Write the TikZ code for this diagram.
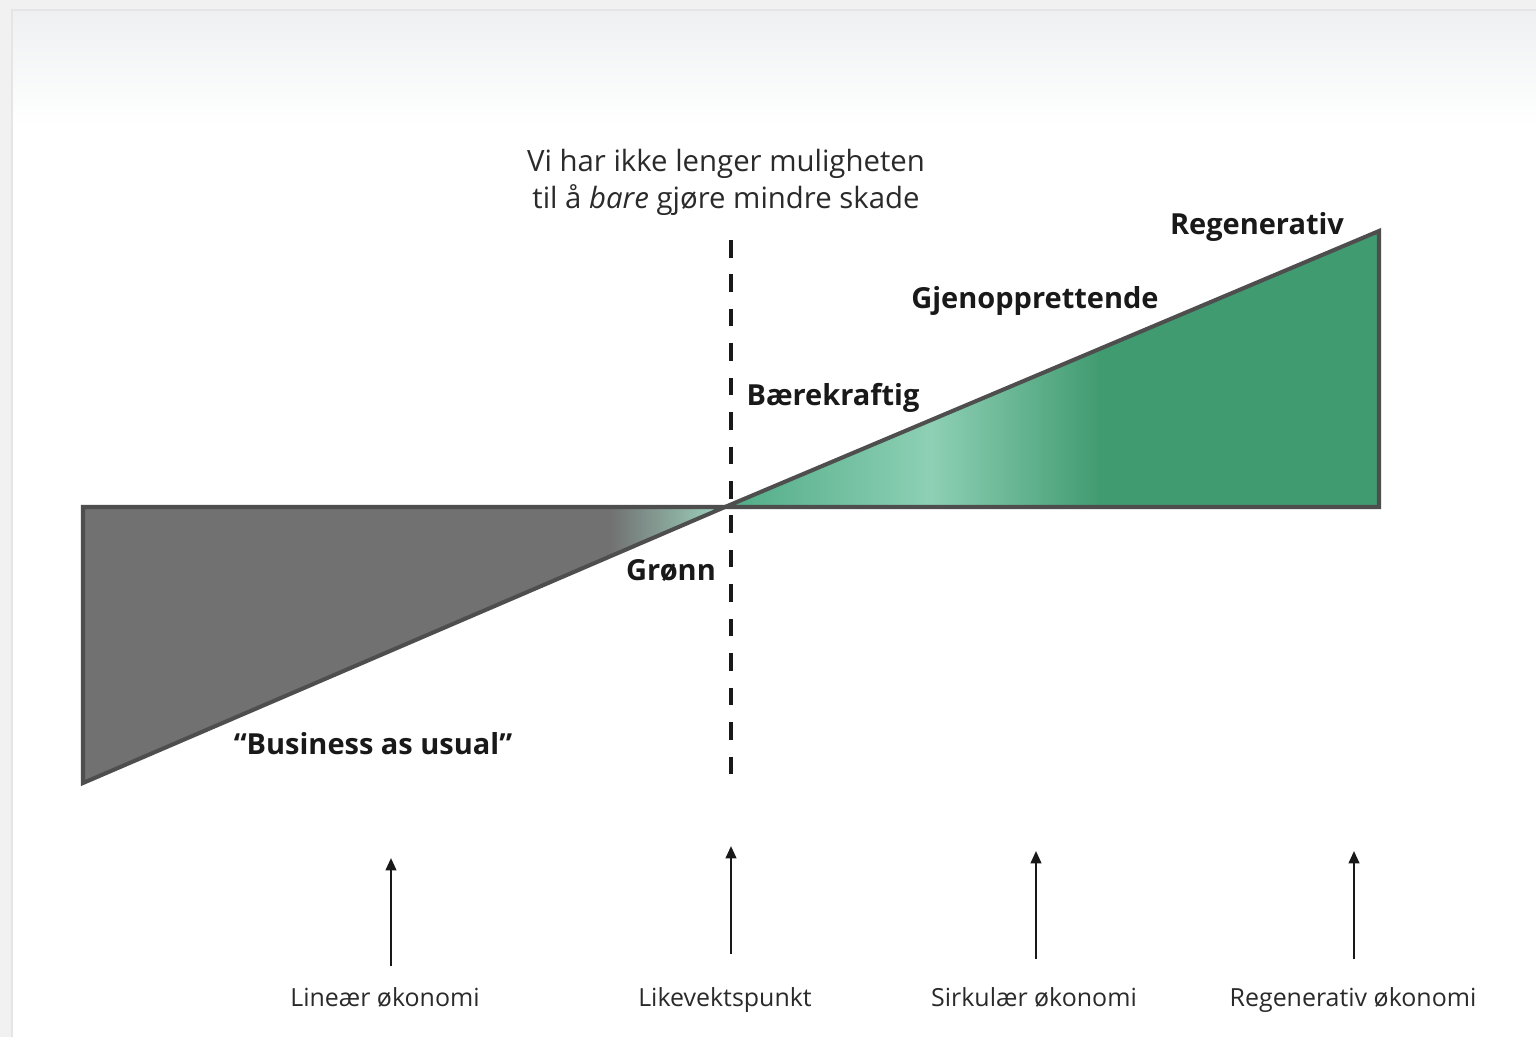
\documentclass[tikz,border=0pt]{standalone}
\usepackage{fontspec}
\setmainfont{Open Sans}
\usetikzlibrary{arrows.meta}
\definecolor{bgout}{HTML}{F1F1F1}
\definecolor{topgray}{HTML}{EEF0F1}
\definecolor{grayfill}{HTML}{717171}
\definecolor{outl}{HTML}{4E4E4E}
\definecolor{palegreen}{HTML}{9FD8C2}
\definecolor{gnear}{HTML}{4FAB86}
\definecolor{glight}{HTML}{8ED0B5}
\definecolor{gdark}{HTML}{419B71}
\definecolor{txt}{HTML}{2A2A2A}
\tikzset{
  outline/.style={draw=outl, line width=2.3pt, line join=miter},
  dashline/.style={draw=black!90, line width=2.6pt, dash pattern=on 10pt off 9.6pt},
  toptext/.style={font=\fontsize{16.7}{21}\selectfont, text=txt, align=center, inner sep=0pt},
  lbl/.style={font=\fontsize{16.5}{20}\selectfont\bfseries, text=black!90, inner sep=0pt, anchor=base},
  botlbl/.style={font=\fontsize{14.2}{16}\selectfont, text=txt, inner sep=0pt, anchor=base},
  uparrow/.style={draw=black!90, line width=1.3pt, -{Triangle[length=7pt,width=6pt]}}
}
\begin{document}
\begin{tikzpicture}[x=0.02cm, y=-0.02cm]
\useasboundingbox (0,0) rectangle (1536,1037);
% background frame
\fill[bgout] (0,0) rectangle (1536,1037);
\fill[white] (12,10) rectangle (1536,1037);
\shade[top color=topgray, bottom color=white] (12,10) rectangle (1536,125);
\draw[black!10, line width=0.6pt] (12,1037) -- (12,10) -- (1536,10);

% coordinates
\coordinate (gl) at (83,507);
\coordinate (gb) at (83,783);
\coordinate (x0) at (725,507);
\coordinate (rt) at (1379,231);
\coordinate (rb) at (1379,507);

% gray triangle
\begin{scope}
  \clip (gl) -- (x0) -- (gb) -- cycle;
  \fill[grayfill] (83,500) rectangle (612,790);
  \shade[left color=grayfill, right color=palegreen] (610,500) rectangle (727,790);
\end{scope}
% green triangle
\begin{scope}
  \clip (x0) -- (rt) -- (rb) -- cycle;
  \shade[left color=gnear, right color=glight] (723,225) rectangle (932,512);
  \shade[left color=glight, right color=gdark] (930,225) rectangle (1100,512);
  \fill[gdark] (1098,225) rectangle (1385,512);
\end{scope}
\draw[outline] (gl) -- (x0) -- (gb) -- cycle;
\draw[outline] (x0) -- (rt) -- (rb) -- cycle;

% dashed line
\coordinate (dtop) at (731,240);
\coordinate (dbot) at (731,782);
\draw[dashline] (dtop) -- (dbot);

% top text
\node[toptext] (head) at (726,182) {Vi har ikke lenger muligheten\\til å \textit{bare} gjøre mindre skade};

% labels
\node[lbl] (regen) at (1257,235) {Regenerativ};
\node[lbl] (gjen) at (1035,309) {Gjenopprettende};
\node[lbl] (baere) at (833,405) {Bærekraftig};
\node[lbl] (gronn) at (671,580) {Grønn};
\node[lbl] (bau) at (373,754) {“Business as usual”};

% bottom labels
\node[botlbl] (lin) at (385,1006) {Lineær økonomi};
\node[botlbl] (like) at (725,1006) {Likevektspunkt};
\node[botlbl] (sirk) at (1034,1006) {Sirkulær økonomi};
\node[botlbl] (regok) at (1353,1006) {Regenerativ økonomi};

% arrows
\coordinate (a1s) at (391,966); \coordinate (a1e) at (391,858);
\coordinate (a2s) at (731,954); \coordinate (a2e) at (731,846);
\coordinate (a3s) at (1036,959); \coordinate (a3e) at (1036,851);
\coordinate (a4s) at (1354,959); \coordinate (a4e) at (1354,851);
\draw[uparrow] (a1s) -- (a1e);
\draw[uparrow] (a2s) -- (a2e);
\draw[uparrow] (a3s) -- (a3e);
\draw[uparrow] (a4s) -- (a4e);
\end{tikzpicture}
\end{document}
